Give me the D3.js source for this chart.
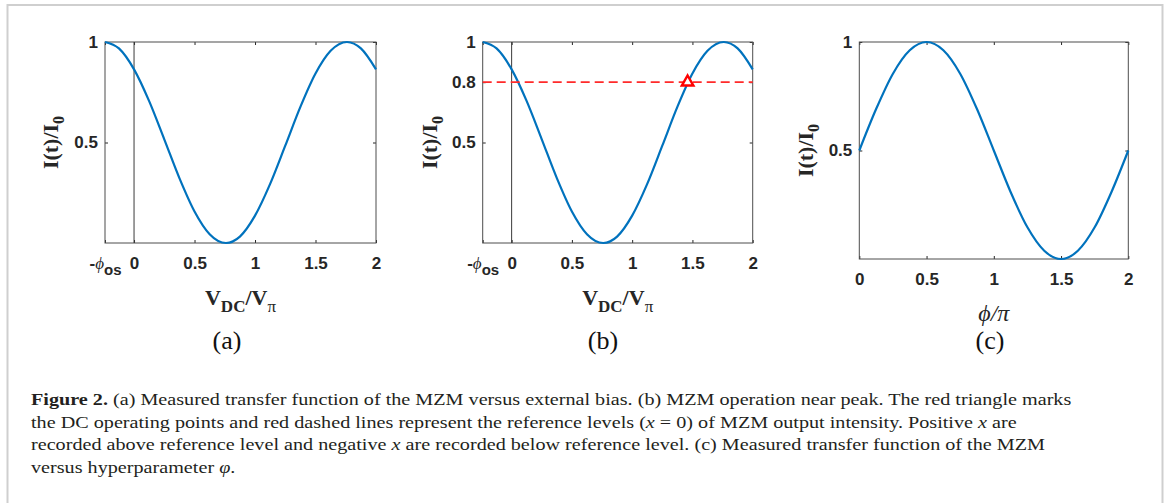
<!DOCTYPE html>
<html>
<head>
<meta charset="utf-8">
<script src="https://cdn.jsdelivr.net/npm/d3@7"></script>
<style>
  body { margin: 0; background: #fff; }
  svg { display: block; }
</style>
</head>
<body>
<div id="chart"></div>
<script>
// values
const biasPoints = [-0.24, -0.125, 0, 0.125, 0.25, 0.375, 0.5, 0.625, 0.76, 0.875, 1, 1.125, 1.25, 1.375, 1.5, 1.625, 1.76, 1.875, 2];
const biasIntensity = [1, 0.968, 0.864, 0.706, 0.516, 0.323, 0.157, 0.044, 0, 0.032, 0.136, 0.294, 0.484, 0.677, 0.843, 0.956, 1, 0.968, 0.864];
const phasePoints = [0, 0.125, 0.25, 0.375, 0.5, 0.625, 0.75, 0.875, 1, 1.125, 1.25, 1.375, 1.5, 1.625, 1.75, 1.875, 2];
const phaseIntensity = [0.5, 0.691, 0.854, 0.962, 1, 0.962, 0.854, 0.691, 0.5, 0.309, 0.146, 0.038, 0, 0.038, 0.146, 0.309, 0.5];
const biasTicks = [-0.24, 0, 0.5, 1, 1.5, 2];
const biasTickLabels = ['-ϕos', '0', '0.5', '1', '1.5', '2'];
const phaseTicks = [0, 0.5, 1, 1.5, 2];
const phaseTickLabels = ['0', '0.5', '1', '1.5', '2'];
const yTicksA = [0.5, 1];
const yTicksB = [0.5, 0.8, 1];
const yTicksC = [0.5, 1];
const referenceLevel = [0.8];
const operatingPoints = [[1.46, 0.8]];
const panelTags = ['(a)', '(b)', '(c)'];
const captionLines = [
  [['Figure 2.', 'b'], [' (a) Measured transfer function of the MZM versus external bias. (b) MZM operation near peak. The red triangle marks', '']],
  [['the DC operating points and red dashed lines represent the reference levels (', ''], ['x', 'i'], [' = 0) of MZM output intensity. Positive ', ''], ['x', 'i'], [' are', '']],
  [['recorded above reference level and negative ', ''], ['x', 'i'], [' are recorded below reference level. (c) Measured transfer function of the MZM', '']],
  [['versus hyperparameter ', ''], ['φ', 'i'], ['.', '']]
];

const W = 1167, H = 503;
const BLUE = '#0072bd', AXIS = '#262626';
const SANS = '"Liberation Sans", Arial, sans-serif';
const SERIF = '"Liberation Serif", "Times New Roman", serif';

const svg = d3.select('#chart').append('svg')
  .attr('width', W)
  .attr('height', H)
  .style('background', '#fff');

// outer frame of the figure
svg.append('rect')
  .attr('x', 7.5).attr('y', 5)
  .attr('width', 1155).attr('height', 540)
  .attr('fill', 'none')
  .attr('stroke', '#cfcfcf')
  .attr('stroke-width', 2);

const panels = [
  { left: 105, right: 376, top: 42, bottom: 243, xs: biasPoints, ys: biasIntensity, xTicks: biasTicks, xLabels: biasTickLabels, yTicks: yTicksA, zeroLine: true, yLabelX: 58, titleY: 305, tagX: 227 },
  { left: 482.7, right: 752.7, top: 42, bottom: 243, xs: biasPoints, ys: biasIntensity, xTicks: biasTicks, xLabels: biasTickLabels, yTicks: yTicksB, zeroLine: true, ref: true, yLabelX: 437, titleY: 305, tagX: 603 },
  { left: 859.3, right: 1128.3, top: 42, bottom: 259, xs: phasePoints, ys: phaseIntensity, xTicks: phaseTicks, xLabels: phaseTickLabels, yTicks: yTicksC, phase: true, yLabelX: 813, titleY: 321, tagX: 990 }
];

panels.forEach((p, i) => {
  const x = d3.scaleLinear().domain(d3.extent(p.xs)).range([p.left, p.right]);
  const y = d3.scaleLinear().domain([0, 1]).range([p.bottom, p.top]);
  const g = svg.append('g');

  const styleAxis = sel => {
    sel.select('.domain').remove();
    sel.selectAll('.tick line').attr('stroke', AXIS);
    sel.selectAll('.tick text')
      .attr('fill', AXIS)
      .style('font-family', SANS)
      .style('font-weight', 'bold')
      .style('font-size', '17px');
  };

  // bottom / top / left / right axes with inward ticks
  const bottom = g.append('g')
    .attr('transform', `translate(0,${p.bottom})`)
    .call(d3.axisBottom(x).tickValues(p.xTicks).tickSizeInner(-3).tickSizeOuter(0).tickPadding(14)
      .tickFormat((d, k) => p.xLabels[k]))
    .call(styleAxis);
  g.append('g')
    .attr('transform', `translate(0,${p.top})`)
    .call(d3.axisTop(x).tickValues(p.xTicks).tickSizeInner(-3).tickSizeOuter(0).tickFormat(''))
    .call(styleAxis);
  g.append('g')
    .attr('transform', `translate(${p.left},0)`)
    .call(d3.axisLeft(y).tickValues(p.yTicks).tickSizeInner(-3).tickSizeOuter(0).tickPadding(7)
      .tickFormat(d3.format('')))
    .call(styleAxis);
  g.append('g')
    .attr('transform', `translate(${p.right},0)`)
    .call(d3.axisRight(y).tickValues(p.yTicks).tickSizeInner(-3).tickSizeOuter(0).tickFormat(''))
    .call(styleAxis);

  // -phi_os label with subscript
  bottom.selectAll('.tick text')
    .filter(d => d < 0)
    .each(function() {
      const t = d3.select(this).text(null);
      t.append('tspan').text('-');
      t.append('tspan').text('ϕ').style('font-style', 'italic').style('font-weight', 'normal').style('font-family', SERIF);
      t.append('tspan').text('os').attr('dy', 6).style('font-size', '15px');
    });

  // box
  g.append('rect')
    .attr('x', p.left).attr('y', p.top)
    .attr('width', p.right - p.left).attr('height', p.bottom - p.top)
    .attr('fill', 'none')
    .attr('stroke', '#4d4d4d')
    .attr('stroke-width', 1);

  if (p.zeroLine) {
    g.append('line')
      .attr('x1', x(0)).attr('x2', x(0))
      .attr('y1', p.top).attr('y2', p.bottom)
      .attr('stroke', '#3a3a3a')
      .attr('stroke-width', 1);
  }

  const pts = p.xs.map((v, k) => [v, p.ys[k]]);
  g.append('path')
    .datum(pts)
    .attr('fill', 'none')
    .attr('stroke', BLUE)
    .attr('stroke-width', 2.2)
    .attr('d', d3.line().x(d => x(d[0])).y(d => y(d[1])).curve(d3.curveMonotoneX));

  if (p.ref) {
    g.selectAll('.ref')
      .data(referenceLevel)
      .enter().append('line')
      .attr('x1', p.left).attr('x2', p.right)
      .attr('y1', d => y(d)).attr('y2', d => y(d))
      .attr('stroke', '#ff2a2a')
      .attr('stroke-width', 1.7)
      .attr('stroke-dasharray', '9,5');
    g.selectAll('.op')
      .data(operatingPoints)
      .enter().append('path')
      .attr('transform', d => `translate(${x(d[0])},${y(d[1])})`)
      .attr('d', d3.symbol(d3.symbolTriangle, 58))
      .attr('fill', '#fff')
      .attr('stroke', '#ff0000')
      .attr('stroke-width', 2.4);
  }

  // y title
  const yt = g.append('text')
    .attr('transform', `translate(${p.yLabelX},${(p.top + p.bottom) / 2}) rotate(-90)`)
    .attr('text-anchor', 'middle')
    .attr('fill', AXIS)
    .style('font-family', SERIF)
    .style('font-weight', 'bold')
    .style('font-size', '22px');
  yt.append('tspan').text('I(t)/I');
  yt.append('tspan').text('0').attr('dy', 6).style('font-size', '16px');

  // x title
  const xt = g.append('text')
    .attr('x', (p.left + p.right) / 2)
    .attr('y', p.titleY)
    .attr('text-anchor', 'middle')
    .attr('fill', AXIS)
    .style('font-family', SERIF);
  if (p.phase) {
    xt.style('font-size', '24px').style('font-style', 'italic').text('ϕ/π');
  } else {
    xt.style('font-size', '22px').style('font-weight', 'bold');
    xt.append('tspan').text('V');
    xt.append('tspan').text('DC').attr('dy', 7).style('font-size', '17px');
    xt.append('tspan').text('/').attr('dy', -7);
    xt.append('tspan').text('V');
    xt.append('tspan').text('π').attr('dy', 7).style('font-size', '17px').style('font-weight', 'normal');
  }

  // panel tag
  svg.append('text')
    .attr('x', p.tagX).attr('y', 349)
    .attr('text-anchor', 'middle')
    .attr('fill', '#111')
    .style('font-family', SERIF)
    .style('font-size', '26px')
    .text(panelTags[i]);
});

// caption
const cap = svg.append('g').attr('class', 'caption');
captionLines.forEach((line, k) => {
  const t = cap.append('text')
    .attr('x', 0)
    .attr('y', 405 + k * 22.6)
    .attr('fill', '#231f20')
    .style('font-family', SERIF)
    .style('font-size', '17.5px');
  line.forEach(([s, st]) => {
    const sp = t.append('tspan').text(s);
    if (st === 'b') sp.style('font-weight', 'bold');
    if (st === 'i') sp.style('font-style', 'italic');
  });
});
// stretch caption horizontally so that the first line spans its width in the figure
const firstW = cap.select('text').node().getComputedTextLength();
cap.attr('transform', `translate(31,0) scale(${1041 / firstW},1)`);
</script>
</body>
</html>
